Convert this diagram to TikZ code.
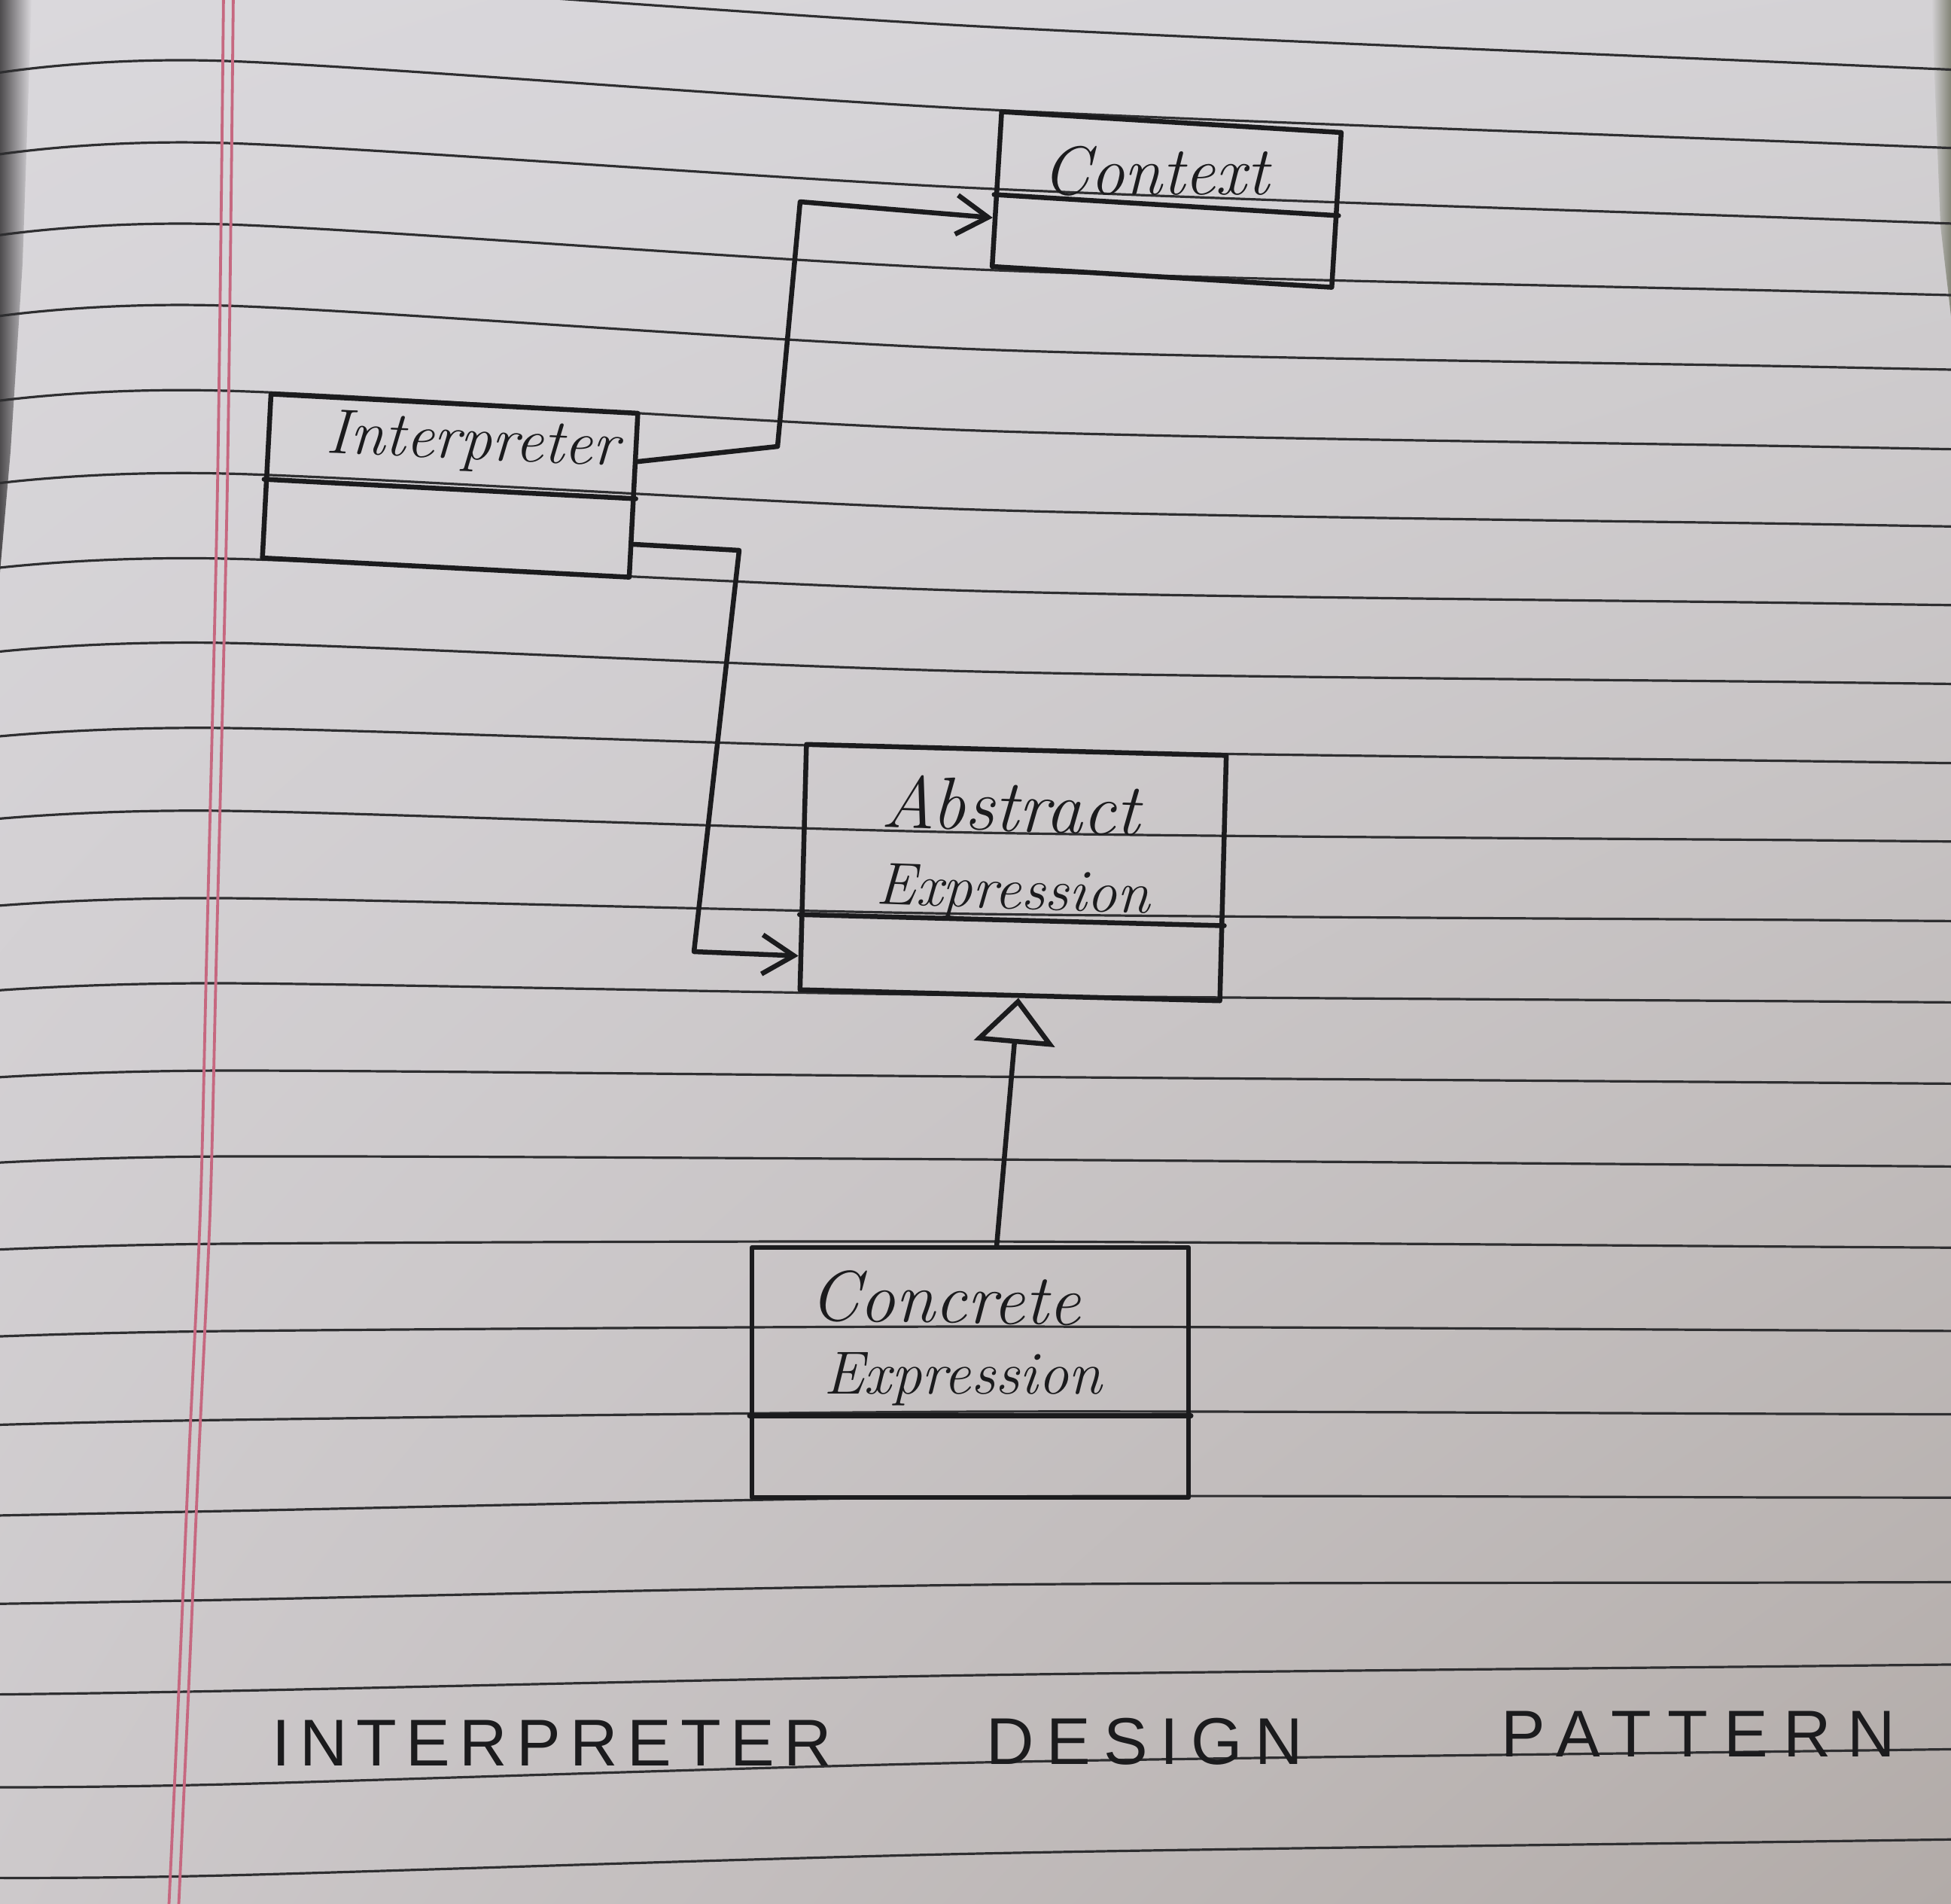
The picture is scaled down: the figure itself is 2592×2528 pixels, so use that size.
\documentclass[tikz,border=0pt]{standalone}
\usepackage{fontspec}
\usetikzlibrary{arrows.meta,calc,shadings}
\newfontfamily\printfont{Liberation Sans}
\definecolor{ink}{HTML}{1B1B1D}
\definecolor{rulecol}{HTML}{2E2E30}
\definecolor{margincol}{RGB}{198,104,128}
\definecolor{paperUL}{RGB}{218,216,220}
\definecolor{paperUR}{RGB}{212,210,213}
\definecolor{paperLL}{RGB}{205,201,203}
\definecolor{paperLR}{RGB}{178,171,168}
\begin{document}
\begin{tikzpicture}[x=0.1mm,y=-0.1mm,
  pen/.style={draw=ink, line width=0.65mm, line cap=round, line join=round},
  rulestroke/.style={draw=rulecol, line width=0.32mm},
  marginstroke/.style={draw=margincol, line width=0.38mm},
  classbox/.style={pen, rectangle, inner sep=0pt},
  hand/.style={text=ink, inner sep=0pt, anchor=base},
  printed/.style={text=ink, inner sep=0pt, anchor=base,
    font=\fontsize{25}{30}\selectfont\printfont},
  assoc/.style={pen, -{Straight Barb[length=4.2mm, width=5.2mm]}},
  inherit/.style={pen, -{Triangle[open, length=6.1mm, width=10.7mm]}},
]
\useasboundingbox (0,0) rectangle (2592,2528);
\clip (0,0) rectangle (2592,2528);

% paper
\shade[upper left=paperUL, upper right=paperUR, lower left=paperLL, lower right=paperLR]
  (0,0) rectangle (2592,2528);
% edges of the neighbouring pages
\shade[left color={rgb,255:red,78;green,76;blue,78}, right color=paperUL]
  (0,0) -- (42,0) -- (30,350) -- (14,600) -- (0,760) -- cycle;
\shade[left color=paperUR, right color={rgb,255:red,130;green,132;blue,118}]
  (2566,0) -- (2592,0) -- (2592,420) -- (2578,300) -- cycle;

% ruled lines (y at x=300, x=1300, x=2400); the page curls down at its left edge
\foreach \yl/\ym/\yr in {-29/35/84, 81/145/189, 190/250/290, 298/358/387,
    406/464/487, 519/572/593, 629/677/696, 742/785/801, 854/892/906,
    967/996/1011, 1077/1106/1116, 1193/1214/1222, 1306/1322/1330,
    1422/1430/1438, 1536/1540/1548, 1652/1649/1656, 1768/1762/1767,
    1886/1875/1878, 2007/1988/1989, 2125/2105/2102, 2246/2225/2213,
    2370/2341/2326, 2491/2462/2446}{
  \pgfmathsetmacro{\curl}{16*(1-\yl/2528)+3}
  \pgfmathsetmacro{\ya}{\yl+\curl}
  \pgfmathsetmacro{\yb}{\yr+0.19*(\yr-\ym)}
  \draw[rulestroke] plot[smooth] coordinates {(-20,\ya) (300,\yl) (1300,\ym) (2400,\yr) (2612,\yb)};
}

% double margin line
\draw[marginstroke] plot[smooth] coordinates {(297,-10) (289,645) (274,1290) (266,1612) (251,1935) (237,2257) (224,2540)};
\draw[marginstroke] plot[smooth] coordinates {(310,-10) (302,645) (287,1290) (279,1612) (264,1935) (250,2257) (237,2540)};

% class boxes
\node[classbox, minimum width=45.2mm, minimum height=20.6mm, rotate=-3.5] (ctx) at (1550,265) {};
\node[classbox, minimum width=48.8mm, minimum height=21.8mm, rotate=-3] (intp) at (598,645) {};
\node[classbox, minimum width=55.8mm, minimum height=32.6mm, rotate=-1.5] (abs) at (1346,1159) {};
\node[classbox, minimum width=58mm, minimum height=33.2mm] (conc) at (1289,1823) {};

% compartment dividers
\draw[pen] ($(ctx.north west)!0.535!(ctx.south west)$) -- ($(ctx.north east)!0.535!(ctx.south east)$);
\draw[pen] ($(intp.north west)!0.52!(intp.south west)$) -- ($(intp.north east)!0.52!(intp.south east)$);
\draw[pen] ($(abs.north west)!0.69!(abs.south west)$) -- ($(abs.north east)!0.69!(abs.south east)$);
\draw[pen] ($(conc.north west)!0.67!(conc.south west)$) -- ($(conc.north east)!0.67!(conc.south east)$);

% class names
\node[hand, font=\fontsize{26}{30}\selectfont\itshape] (ctx-name) at (1535,258) {Context};
\node[hand, font=\fontsize{24}{28}\selectfont\itshape, rotate=-2.5] (intp-name) at (627,610) {Interpreter};
\node[hand, font=\fontsize{28}{32}\selectfont\itshape, rotate=-2] (abs-name1) at (1342,1104) {Abstract};
\node[hand, font=\fontsize{22.6}{27}\selectfont\itshape, rotate=-2] (abs-name2) at (1345,1207) {Expression};
\node[hand, font=\fontsize{27}{31}\selectfont\itshape, rotate=-1] (conc-name1) at (1255,1757) {Concrete};
\node[hand, font=\fontsize{23}{28}\selectfont\itshape] (conc-name2) at (1279,1851) {Expression};

% bends of the association lines
\coordinate (k1) at (1033,593);
\coordinate (k2) at (1063,268);
\coordinate (k3) at (982,731);
\coordinate (k4) at (922,1264);

% Interpreter -> Context
\draw[assoc] ($(intp.north east)!0.30!(intp.south east)$) -- (k1) -- (k2) -- ($(ctx.north west)!0.68!(ctx.south west)$);
% Interpreter -> AbstractExpression
\draw[assoc] ($(intp.north east)!0.79!(intp.south east)$) -- (k3) -- (k4) -- ($(abs.north west)!0.855!(abs.south west)$);
% ConcreteExpression inherits AbstractExpression
\draw[inherit] ($(conc.north west)!0.56!(conc.north east)$) -- ($(abs.south west)!0.52!(abs.south east)$);

% title
\node[printed] (title1) at (733,2345) {\addfontfeature{LetterSpace=14}INTERPRETER};
\node[printed] (title2) at (1521,2343) {\addfontfeature{LetterSpace=19}DESIGN};
\node[printed] (title3) at (2256,2333) {\addfontfeature{LetterSpace=24}PATTERN};
\end{tikzpicture}
\end{document}
